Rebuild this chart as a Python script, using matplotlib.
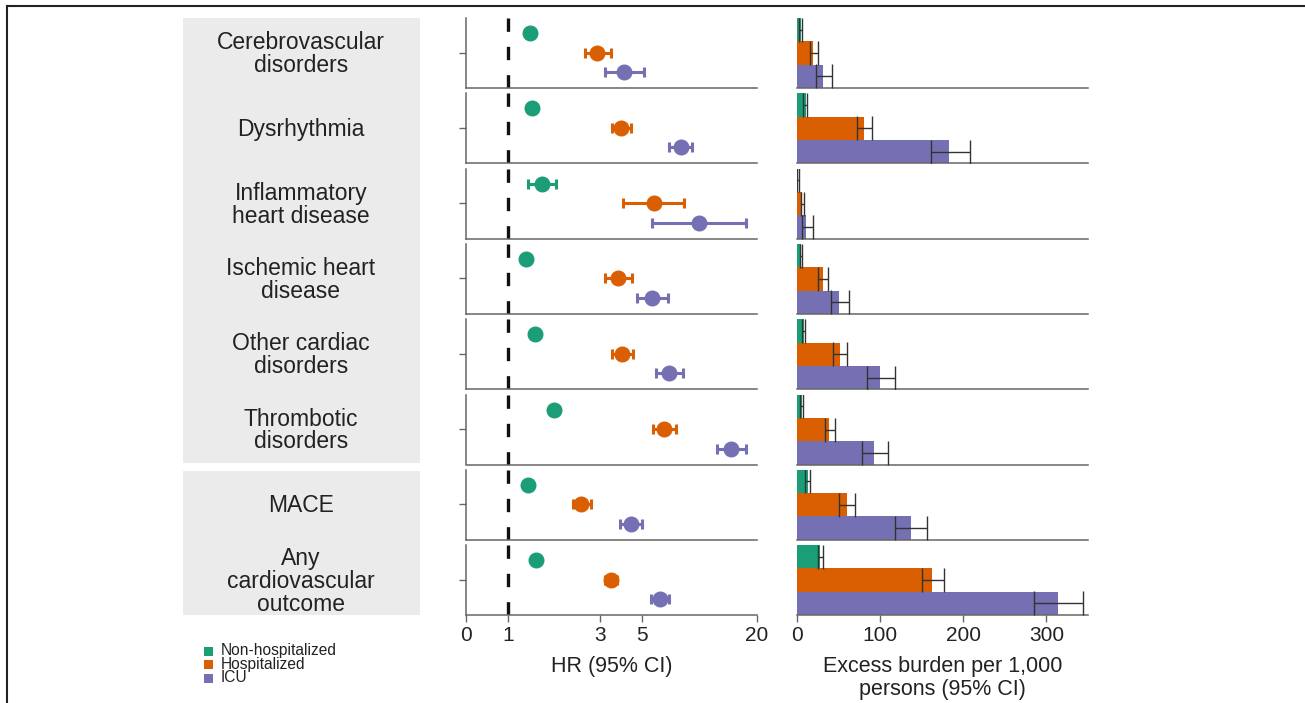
import numpy as np
import matplotlib
matplotlib.use("Agg")
import matplotlib.pyplot as plt
from matplotlib.patches import Rectangle
from matplotlib.lines import Line2D

plt.rcParams['font.family'] = ['Liberation Sans', 'DejaVu Sans']

categories = ["Cerebrovascular\ndisorders", "Dysrhythmia", "Inflammatory\nheart disease",
              "Ischemic heart\ndisease", "Other cardiac\ndisorders", "Thrombotic\ndisorders",
              "MACE", "Any\ncardiovascular\noutcome"]
groups = ["Non-hospitalized", "Hospitalized", "ICU"]
colors = ["#1b9e77", "#d95f02", "#7570b3"]

# Hazard ratios (95% CI)
hr_nonhosp = [1.29, 1.33, 1.50, 1.24, 1.37, 1.74, 1.26, 1.40]
hr_nonhosp_lo = [1.25, 1.29, 1.27, 1.20, 1.32, 1.68, 1.22, 1.36]
hr_nonhosp_hi = [1.33, 1.37, 1.78, 1.28, 1.42, 1.80, 1.30, 1.44]
hr_hosp = [2.92, 3.90, 5.76, 3.76, 3.95, 6.55, 2.40, 3.44]
hr_hosp_lo = [2.51, 3.50, 3.99, 3.21, 3.50, 5.71, 2.18, 3.20]
hr_hosp_hi = [3.44, 4.36, 8.34, 4.45, 4.51, 7.54, 2.69, 3.70]
hr_icu = [4.04, 8.01, 10.0, 5.67, 6.96, 14.6, 4.38, 6.22]
hr_icu_lo = [3.19, 6.96, 5.67, 4.71, 5.90, 12.3, 3.84, 5.60]
hr_icu_hi = [5.15, 9.15, 17.6, 6.85, 8.20, 17.5, 5.02, 6.95]

# Excess burden per 1,000 persons (95% CI)
eb_nonhosp = [4.8, 10.8, 1.6, 4.8, 8.8, 6.4, 14, 28]
eb_nonhosp_lo = [3.0, 8.0, 0.5, 3.6, 6.4, 4.5, 10, 26]
eb_nonhosp_hi = [6.0, 12.5, 2.5, 6.0, 10.5, 7.5, 16, 32]
eb_hosp = [20, 81, 6, 31, 52, 39, 61, 163]
eb_hosp_lo = [16, 72, 4.8, 25, 44, 34, 51, 150]
eb_hosp_hi = [25, 91, 9, 38, 60, 46, 70, 177]
eb_icu = [31, 183, 10.8, 51, 100, 93, 137, 314]
eb_icu_lo = [23, 161, 6.8, 41, 85, 79, 118, 285]
eb_icu_hi = [42, 208, 20, 63, 118, 110, 157, 344]

hr_ticks = [0.6, 1, 3, 5, 20]
hr_ticklabels = ["0", "1", "3", "5", "20"]
eb_ticks = [0, 100, 200, 300]

hr_sets = [(hr_nonhosp, hr_nonhosp_lo, hr_nonhosp_hi),
           (hr_hosp, hr_hosp_lo, hr_hosp_hi),
           (hr_icu, hr_icu_lo, hr_icu_hi)]
eb_sets = [(eb_nonhosp, eb_nonhosp_lo, eb_nonhosp_hi),
           (eb_hosp, eb_hosp_lo, eb_hosp_hi),
           (eb_icu, eb_icu_lo, eb_icu_hi)]

W, H = 1305, 703
fig = plt.figure(figsize=(W / 100, H / 100), dpi=100)


def frect(x0, y0, x1, y1):
    return [x0 / W, 1 - y1 / H, (x1 - x0) / W, (y1 - y0) / H]


# figure border (left and top)
fig.add_artist(Line2D([7 / W, 7 / W], [0, 1 - 6 / H], transform=fig.transFigure, color="#222222", lw=1.5))
fig.add_artist(Line2D([7 / W, 1], [1 - 6 / H, 1 - 6 / H], transform=fig.transFigure, color="#222222", lw=1.5))

# gray label boxes
for (y0, y1) in [(18, 463), (471, 615)]:
    fig.add_artist(Rectangle((183 / W, 1 - y1 / H), (420 - 183) / W, (y1 - y0) / H,
                             transform=fig.transFigure, facecolor="#ebebeb", edgecolor="none", zorder=0))

pitch = 75.3
ph = 70
spine_c = "#666666"
n = len(categories)
for i in range(n):
    top = 18 + pitch * i
    bot = top + ph
    last = (i == n - 1)

    # label
    fig.text(301 / W, 1 - (top + ph / 2 + 1) / H, categories[i], ha="center", va="center",
             fontsize=16.5, linespacing=1.0, color="#222222")

    # HR panel
    ax = fig.add_axes(frect(466, top, 757, bot))
    ax.set_xscale("log")
    ax.set_xlim(0.6, 20)
    ax.set_ylim(2.82, -0.77)
    ax.axvline(1, color="#111111", lw=2.4, dashes=(4, 4.5), zorder=1)
    for g in range(3):
        est, lo, hi = hr_sets[g]
        ax.errorbar([est[i]], [g], xerr=[[est[i] - lo[i]], [hi[i] - est[i]]], fmt="o",
                    color=colors[g], ms=10.5, elinewidth=2.2, capsize=3.5, capthick=2.2, zorder=3)
    for s in ["top", "right"]:
        ax.spines[s].set_visible(False)
    for s in ["left", "bottom"]:
        ax.spines[s].set_color(spine_c)
        ax.spines[s].set_linewidth(1.1)
    ax.set_yticks([1])
    ax.set_yticklabels([""])
    ax.tick_params(axis="y", length=5, color=spine_c, width=1)
    ax.xaxis.set_minor_locator(matplotlib.ticker.NullLocator())
    if last:
        ax.set_xticks(hr_ticks)
        ax.set_xticklabels(hr_ticklabels, fontsize=15, color="#222222")
        ax.tick_params(axis="x", length=5, color=spine_c, width=1, pad=3)
        ax.set_xlabel("HR (95% CI)", fontsize=15.5, color="#222222", labelpad=8)
    else:
        ax.set_xticks([])

    # Excess burden panel
    bx = fig.add_axes(frect(796.7, top, 1088, bot))
    bx.set_xlim(0, 350)
    bx.set_ylim(2.5, -0.5)
    for g in range(3):
        est, lo, hi = eb_sets[g]
        bx.barh([g], [est[i]], height=1.0, color=colors[g], edgecolor="none", zorder=2)
        bx.errorbar([est[i]], [g], xerr=[[est[i] - lo[i]], [hi[i] - est[i]]], fmt="none",
                    ecolor="#333333", elinewidth=1.0, capsize=8.3, capthick=1.0, zorder=3)
    for s in ["top", "right", "left"]:
        bx.spines[s].set_visible(False)
    bx.spines["bottom"].set_color(spine_c)
    bx.spines["bottom"].set_linewidth(1.1)
    bx.set_yticks([])
    if last:
        bx.set_xticks(eb_ticks)
        bx.set_xticklabels([str(t) for t in eb_ticks], fontsize=15, color="#222222")
        bx.tick_params(axis="x", length=5, color=spine_c, width=1, pad=3)
        bx.set_xlabel("Excess burden per 1,000\npersons (95% CI)", fontsize=15.5,
                      color="#222222", labelpad=8, linespacing=1.1)
    else:
        bx.set_xticks([])

# legend
for k, (lab, c) in enumerate(zip(groups, colors)):
    yc = 651 + 13.5 * k
    fig.add_artist(Rectangle((204 / W, 1 - (yc + 4.5) / H), 9 / W, 9 / H,
                             transform=fig.transFigure, facecolor=c, edgecolor="none"))
    fig.text(221 / W, 1 - yc / H, lab, ha="left", va="center", fontsize=11.2, color="#222222")

fig.savefig("out.png", dpi=100)
